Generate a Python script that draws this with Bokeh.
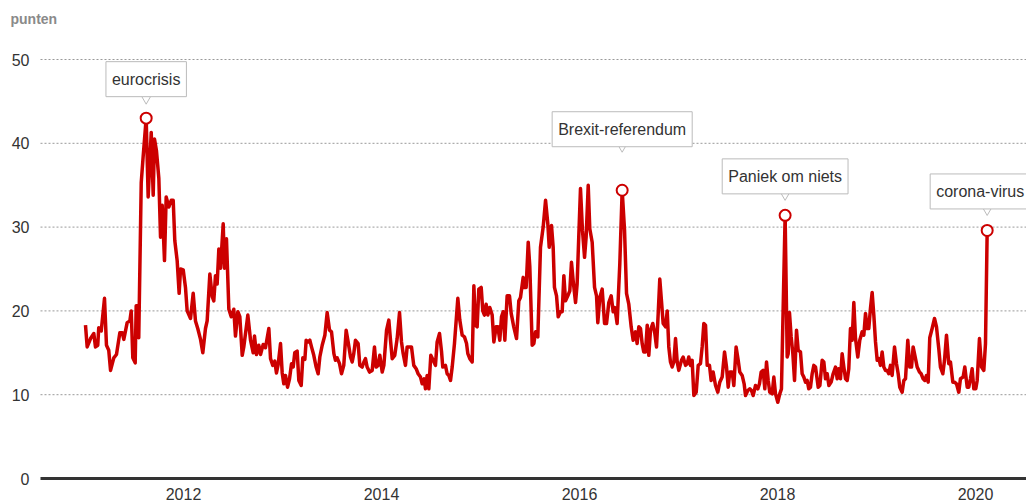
from bokeh.plotting import figure
from bokeh.models import Label, Range1d
from bokeh.embed import file_html
from bokeh.resources import INLINE
from bokeh.core.properties import value

# ---- data ----
dates = [
    2011.010, 2011.027, 2011.061, 2011.094, 2011.111, 2011.134, 2011.144, 2011.169, 2011.202, 2011.222,
    2011.245, 2011.263, 2011.296, 2011.323, 2011.357, 2011.381, 2011.397, 2011.431, 2011.458, 2011.472,
    2011.488, 2011.512, 2011.522, 2011.538, 2011.548, 2011.573, 2011.593, 2011.623, 2011.643, 2011.674,
    2011.694, 2011.707, 2011.727, 2011.751, 2011.768, 2011.785, 2011.808, 2011.825, 2011.852, 2011.876,
    2011.896, 2011.912, 2011.936, 2011.956, 2011.970, 2011.997, 2012.020, 2012.037, 2012.071, 2012.098,
    2012.121, 2012.144, 2012.172, 2012.195, 2012.222, 2012.239, 2012.266, 2012.290, 2012.306, 2012.323,
    2012.340, 2012.357, 2012.374, 2012.401, 2012.414, 2012.434, 2012.458, 2012.482, 2012.508, 2012.525,
    2012.549, 2012.569, 2012.593, 2012.609, 2012.650, 2012.677, 2012.704, 2012.717, 2012.737, 2012.761,
    2012.778, 2012.805, 2012.828, 2012.862, 2012.879,
    2012.902, 2012.922, 2012.939, 2012.956, 2012.980, 2012.997, 2013.013, 2013.030, 2013.051, 2013.071,
    2013.091, 2013.108, 2013.124, 2013.148, 2013.165, 2013.189, 2013.205, 2013.226, 2013.239, 2013.259,
    2013.276, 2013.293, 2013.316, 2013.340, 2013.360, 2013.377, 2013.401, 2013.428, 2013.451, 2013.475,
    2013.495, 2013.519, 2013.535, 2013.552, 2013.576, 2013.596, 2013.619, 2013.643, 2013.663, 2013.687,
    2013.704, 2013.720, 2013.737, 2013.764, 2013.781, 2013.805, 2013.822, 2013.838, 2013.855, 2013.879,
    2013.906, 2013.929, 2013.946, 2013.966, 2013.983, 2014.007, 2014.024, 2014.051, 2014.074, 2014.091,
    2014.108, 2014.134, 2014.158, 2014.182, 2014.202, 2014.219, 2014.242, 2014.259, 2014.283, 2014.303,
    2014.326, 2014.350, 2014.370, 2014.394, 2014.411, 2014.431, 2014.444, 2014.461, 2014.478, 2014.498,
    2014.522, 2014.545, 2014.562, 2014.586, 2014.606, 2014.619, 2014.646, 2014.663, 2014.680, 2014.697,
    2014.714, 2014.737, 2014.771, 2014.791, 2014.815, 2014.838, 2014.859, 2014.872, 2014.892, 2014.916,
    2014.933, 2014.949, 2014.966, 2014.983, 2015.007, 2015.023, 2015.040, 2015.057, 2015.074, 2015.094,
    2015.118, 2015.135, 2015.158, 2015.175, 2015.195, 2015.212, 2015.229, 2015.246, 2015.269, 2015.293,
    2015.310, 2015.336, 2015.364, 2015.387, 2015.404, 2015.431, 2015.444, 2015.461, 2015.482, 2015.498,
    2015.522, 2015.539, 2015.556, 2015.579, 2015.606, 2015.633, 2015.657, 2015.680, 2015.694, 2015.717,
    2015.734, 2015.747, 2015.768, 2015.785, 2015.808, 2015.825, 2015.842, 2015.859, 2015.882, 2015.902,
    2015.919, 2015.936, 2015.960, 2015.976, 2015.993, 2016.010, 2016.030, 2016.051, 2016.067, 2016.088,
    2016.104, 2016.128, 2016.152, 2016.172, 2016.185, 2016.205, 2016.229, 2016.253, 2016.273, 2016.296,
    2016.320, 2016.340, 2016.357, 2016.380, 2016.407, 2016.431, 2016.455, 2016.475, 2016.498, 2016.522,
    2016.542, 2016.566, 2016.582, 2016.599, 2016.616, 2016.633, 2016.649, 2016.667, 2016.684, 2016.700,
    2016.717, 2016.740, 2016.761, 2016.778, 2016.795, 2016.811, 2016.828, 2016.845, 2016.869, 2016.886,
    2016.902, 2016.919, 2016.936, 2016.953, 2016.970, 2016.987, 2017.003, 2017.030, 2017.047, 2017.071,
    2017.087, 2017.104, 2017.121, 2017.138, 2017.155, 2017.179, 2017.199, 2017.222, 2017.239, 2017.256,
    2017.273, 2017.290, 2017.313, 2017.330, 2017.350, 2017.374, 2017.397, 2017.417, 2017.441, 2017.465,
    2017.485, 2017.502, 2017.518, 2017.542, 2017.559, 2017.582, 2017.603, 2017.619, 2017.643, 2017.663,
    2017.677, 2017.700, 2017.720, 2017.737, 2017.754, 2017.778, 2017.801, 2017.818, 2017.835, 2017.855,
    2017.872, 2017.889, 2017.906, 2017.922, 2017.946, 2017.963, 2017.980, 2018.003, 2018.023, 2018.040,
    2018.077, 2018.098, 2018.108, 2018.121, 2018.138, 2018.155, 2018.172, 2018.192, 2018.209, 2018.232,
    2018.249, 2018.266, 2018.283, 2018.300, 2018.316, 2018.333, 2018.350, 2018.367, 2018.384, 2018.411,
    2018.428, 2018.451, 2018.468, 2018.485, 2018.502, 2018.519, 2018.542, 2018.562, 2018.586, 2018.603,
    2018.619, 2018.636, 2018.653, 2018.670, 2018.687, 2018.704, 2018.720, 2018.737, 2018.754, 2018.771,
    2018.788, 2018.811, 2018.831, 2018.855, 2018.872, 2018.889, 2018.906, 2018.922, 2018.939, 2018.956,
    2018.973, 2018.990, 2019.007, 2019.024, 2019.040, 2019.057, 2019.074, 2019.091, 2019.108, 2019.124,
    2019.141, 2019.158, 2019.182, 2019.202, 2019.219, 2019.235, 2019.259, 2019.276, 2019.293, 2019.316,
    2019.336, 2019.354, 2019.370, 2019.394, 2019.411, 2019.434, 2019.451, 2019.471, 2019.488, 2019.505,
    2019.522, 2019.538, 2019.562, 2019.586, 2019.606, 2019.629, 2019.646, 2019.670, 2019.687, 2019.707,
    2019.730, 2019.747, 2019.771, 2019.788, 2019.808, 2019.831, 2019.848, 2019.875, 2019.892, 2019.916,
    2019.932, 2019.949, 2019.966, 2019.983, 2020.003, 2020.017, 2020.040, 2020.061, 2020.084, 2020.101,
    2020.118,
]
values = [
    18.3, 15.7, 16.7, 17.3, 15.7, 15.9, 18.0, 17.6, 21.5, 15.9,
    15.3, 12.9, 14.4, 14.8, 17.4, 17.4, 16.6, 18.6, 18.8, 20.0,
    14.4, 13.8, 20.6, 20.6, 16.8, 35.3, 38.5, 43.0, 33.6, 41.3,
    33.8, 40.5, 39.1, 35.8, 28.8, 32.6, 26.0, 33.6, 32.4, 33.2,
    33.2, 28.4, 26.0, 22.1, 25.0, 24.9, 22.8, 20.0, 19.1, 22.1,
    18.8, 17.9, 16.6, 15.0, 17.9, 18.8, 24.4, 21.7, 21.2, 24.2,
    23.2, 27.4, 25.1, 30.4, 25.1, 28.6, 20.2, 19.3, 20.2, 17.0,
    19.9, 19.3, 14.7, 15.7, 19.5, 16.5, 15.0, 17.0, 14.8, 15.9,
    14.8, 16.0, 15.6, 17.9, 14.3,
    13.5, 14.0, 12.6, 13.6, 16.1, 12.6, 11.3, 12.3, 10.9, 11.9,
    13.7, 13.3, 15.0, 15.2, 11.7, 11.1, 14.4, 14.2, 16.5, 16.3,
    16.5, 15.7, 14.7, 13.3, 12.5, 14.5, 15.9, 17.1, 19.8, 17.7,
    17.5, 14.9, 14.1, 14.4, 13.7, 12.5, 13.5, 17.7, 16.3, 14.5,
    13.9, 14.9, 16.5, 16.1, 13.5, 13.3, 13.9, 14.3, 13.3, 12.7,
    12.9, 15.7, 13.3, 13.5, 14.7, 12.7, 13.5, 17.7, 18.9, 16.5,
    14.3, 14.7, 16.7, 19.8, 16.3, 14.9, 13.5, 15.7, 15.7, 15.7,
    13.5, 13.1, 12.5, 12.1, 11.3, 11.9, 10.7, 12.3, 10.7, 14.7,
    14.1, 13.5, 16.3, 17.3, 15.2, 13.3, 13.5, 12.5, 12.3, 11.7,
    13.3, 16.1, 21.5, 18.9, 17.1, 16.9, 16.1, 14.9, 14.3, 13.9,
    23.0, 18.3, 18.1, 22.6, 22.8, 20.0, 19.5, 20.8, 19.5, 20.4,
    19.5, 16.3, 18.1, 18.1, 16.5, 19.3, 19.9, 16.5, 21.8, 21.8,
    19.7, 18.1, 16.7, 21.2, 21.6, 24.0, 22.8, 22.8, 28.2, 25.3,
    15.9, 16.1, 17.5, 16.9, 27.6, 30.0, 33.2, 30.4, 27.6, 30.2,
    27.6, 22.8, 21.8, 19.3, 19.9, 19.9, 24.2, 21.2, 21.8, 22.4,
    25.8, 23.6, 21.0, 23.2, 29.0, 34.6, 29.6, 26.4, 28.8, 35.0,
    29.8, 28.2, 22.8, 21.8, 18.6, 21.6, 22.6, 18.5, 18.5, 21.0,
    21.8, 19.9, 20.4, 18.5, 25.6, 34.4, 29.6, 22.1, 20.8, 18.1,
    16.5, 17.5, 16.1, 18.1, 17.9, 16.1, 15.1, 15.1, 18.3, 14.7,
    17.7, 18.5, 17.3, 15.7, 19.7, 23.8, 21.2, 18.5, 18.1, 20.0,
    15.7, 13.9, 13.3, 13.9, 16.7, 13.9, 12.9, 14.1, 14.5, 13.5,
    13.7, 14.5, 13.5, 14.1, 9.9, 10.3, 13.5, 13.7, 15.7, 18.5,
    18.3, 13.5, 13.5, 11.7, 12.7, 11.1, 10.3, 11.5, 12.1, 15.1,
    13.3, 10.9, 12.7, 12.7, 11.1, 15.7, 14.1, 12.7, 12.3, 11.3,
    9.9, 10.5, 10.7, 10.5, 9.9, 11.1, 10.7, 11.3, 12.7, 12.9,
    10.7, 13.9, 11.7, 10.3, 10.1, 12.1, 10.1, 9.1, 10.1, 10.7,
    31.4, 14.5, 14.9, 19.8, 16.9, 14.9, 11.7, 17.7, 15.3, 15.1,
    12.5, 12.1, 11.5, 11.7, 10.7, 10.9, 12.5, 13.5, 13.3, 10.9,
    11.1, 14.1, 13.9, 11.9, 12.5, 11.1, 11.5, 12.5, 13.3, 11.9,
    13.1, 11.9, 14.9, 13.3, 11.9, 11.7, 13.1, 17.9, 16.5, 21.0,
    16.7, 14.5, 16.5, 17.5, 17.1, 19.7, 17.9, 17.9, 20.3, 22.2,
    19.5, 16.3, 14.1, 14.3, 13.5, 15.1, 13.3, 12.9, 12.9, 12.5,
    13.5, 12.3, 15.7, 13.7, 12.5, 10.9, 10.3, 11.7, 11.9, 16.5,
    13.3, 13.3, 15.7, 14.3, 13.3, 12.7, 12.5, 11.9, 11.7, 12.3,
    11.5, 16.8, 17.9, 19.1, 18.1, 15.5, 13.3, 12.5, 14.1, 17.1,
    13.7, 13.9, 11.5, 11.5, 11.3, 10.3, 11.9, 12.1, 13.3, 10.9,
    10.9, 11.9, 13.1, 10.7, 10.7, 11.7, 16.7, 13.3, 12.9, 16.1,
    29.6,
]

y_ticks = [0, 10, 20, 30, 40, 50]
x_ticks = [2012, 2014, 2016, 2018, 2020]
unit_label = "punten"

ann_text = ["eurocrisis", "Brexit-referendum", "Paniek om niets", "corona-virus"]
ann_dates = [2011.623, 2016.431, 2018.077, 2020.118]

# ---- style / layout (pixel geometry of the canvas) ----
RED = "#cc0000"
GRAY_TXT = "#333333"
BOX_LINE = "#bbbbbb"
FONT = "Liberation Sans"
W, H = 1026, 502
PLOT_L, PLOT_B, PLOT_T = 40, 478, 59          # px: plot area left, zero line, 50-line
PX_PER_YEAR = 99
X_REF_YEAR, X_REF_PX = 2011, 84
ppx = PX_PER_YEAR
ppu = (PLOT_B - PLOT_T) / (y_ticks[-1] - y_ticks[0])

X0 = X_REF_YEAR - X_REF_PX / ppx
X1 = X_REF_YEAR + (W - X_REF_PX) / ppx
Y0 = y_ticks[0] - (H - PLOT_B) / ppu
Y1 = y_ticks[-1] + PLOT_T / ppu
GX0 = X0 + PLOT_L / ppx                        # left end of grid / axis line

ann_box_off = [39, 61, 39, 39]     # px above the point (box centre)
ann_tip_off = [14, 38, 15, 15]     # px above the point (pointer tip)
ann_x_off = [0, 0, 0, -7]
TRI = 11

p = figure(frame_width=W, frame_height=H,
           x_range=Range1d(X0, X1), y_range=Range1d(Y0, Y1),
           output_backend="svg", toolbar_location=None,
           min_border=0)
p.outline_line_color = None
p.background_fill_color = "white"
p.border_fill_color = "white"
p.axis.visible = False
p.grid.visible = False

# grid lines (dotted) and zero axis line
grid_vals = [v for v in y_ticks if v != 0]
p.segment(x0=[GX0] * len(grid_vals), y0=grid_vals, x1=[X1] * len(grid_vals), y1=grid_vals,
          line_color="#999999", line_width=1, line_dash="2 2")
p.segment(x0=[GX0], y0=[0], x1=[X1], y1=[0], line_color="#333333", line_width=3)

# tick labels
p.text(x=[X0 + 29 / ppx] * len(y_ticks), y=y_ticks, text=[str(v) for v in y_ticks],
       text_align="right", text_baseline="middle",
       text_font=value(FONT), text_font_size="16px", text_color=GRAY_TXT)
p.text(x=x_ticks, y=[-(493 - PLOT_B) / ppu] * len(x_ticks), text=[str(v) for v in x_ticks],
       text_align="center", text_baseline="middle",
       text_font=value(FONT), text_font_size="16px", text_color=GRAY_TXT)
p.text(x=[X0 + 10 / ppx], y=[y_ticks[-1] + (PLOT_T - 18) / ppu], text=[unit_label],
       text_align="left", text_baseline="middle",
       text_font=value(FONT), text_font_size="14px", text_font_style="bold",
       text_color="#8a8a8a")

# series
p.line(dates, values, line_color=RED, line_width=3.5, line_join="round")

# annotations
idx = [min(range(len(dates)), key=lambda i: abs(dates[i] - d)) for d in ann_dates]
px = [dates[i] for i in idx]
py = [values[i] for i in idx]

tri_y = [y + (t + 0.577 * TRI) / ppu for y, t in zip(py, ann_tip_off)]
p.scatter(px, tri_y, marker="inverted_triangle", size=TRI,
          fill_color="white", line_color=BOX_LINE, line_width=1)
p.scatter(px, py, size=11, fill_color="white", line_color=RED, line_width=2)

for t, x, y, yo, xo in zip(ann_text, px, py, ann_box_off, ann_x_off):
    p.add_layout(Label(x=x, y=y, x_offset=xo, y_offset=yo, text=t,
                       text_align="center", text_baseline="middle",
                       text_font=FONT, text_font_size="16px", text_color=GRAY_TXT,
                       background_fill_color="white", border_line_color=BOX_LINE,
                       border_line_width=1, padding=(6, 9)))

open("out.html", "w").write(file_html(p, INLINE))
